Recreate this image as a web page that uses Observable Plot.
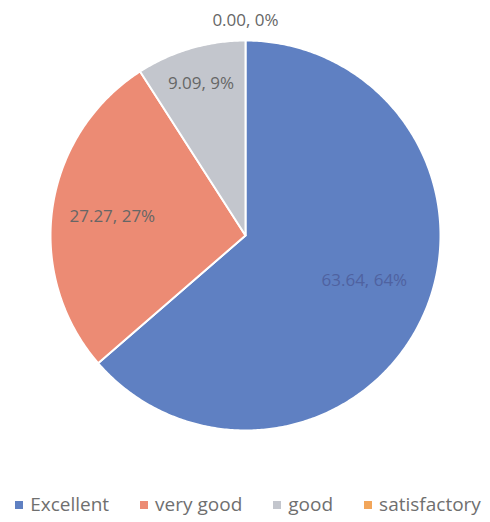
<!DOCTYPE html>
<html>
<head>
<meta charset="utf-8">
<script src="https://cdn.jsdelivr.net/npm/d3@7"></script>
<script src="https://cdn.jsdelivr.net/npm/@observablehq/plot@0.6"></script>
<style>
  html, body { margin: 0; padding: 0; background: #fff; }
  #chart { width: 490px; }
  .legend { display: flex; justify-content: center; gap: 31px; font-family: "Open Sans", "Lato", sans-serif; font-size: 19px; color: #6f6f6f; margin-top: 21px; white-space: nowrap; padding-left: 6px; }
  .legend span.sw { display: inline-block; width: 8px; height: 8px; margin-right: 7px; vertical-align: middle; position: relative; top: -1px; }
</style>
</head>
<body>
<div id="chart"></div>
<script>
const categories = ["Excellent", "very good", "good", "satisfactory"];
const values = [63.64, 27.27, 9.09, 0.00];
const percentLabels = ["64%", "27%", "9%", "0%"];
const colors = ["#5f80c2", "#ec8b74", "#c3c6cd", "#f2a65a"];

const data = categories.map((c, i) => ({category: c, value: values[i], pct: percentLabels[i]}));
const pie = d3.pie().sort(null).value(d => d.value)(data);

// polygon points for each slice (angle measured clockwise from top)
const pts = [];
pie.forEach(s => {
  if (s.endAngle - s.startAngle <= 0) return;
  const n = Math.max(2, Math.ceil((s.endAngle - s.startAngle) / 0.01));
  pts.push({category: s.data.category, x: 0, y: 0});
  for (let k = 0; k <= n; k++) {
    const a = s.startAngle + (s.endAngle - s.startAngle) * k / n;
    pts.push({category: s.data.category, x: Math.sin(a), y: Math.cos(a)});
  }
  pts.push({category: s.data.category, x: 0, y: 0});
});

const labels = pie.map(s => {
  const a = (s.startAngle + s.endAngle) / 2;
  const frac = (s.endAngle - s.startAngle) / (2 * Math.PI);
  const r = frac === 0 ? 1.1 : frac > 0.5 ? 0.67 : frac > 0.2 ? 0.69 : 0.81;
  return {x: Math.sin(a) * r, y: Math.cos(a) * r,
          text: s.data.value.toFixed(2) + ", " + s.data.pct, big: frac > 0.5};
});

const chart = Plot.plot({
  width: 490,
  height: 470,
  marginLeft: 50, marginRight: 50, marginTop: 40, marginBottom: 40,
  x: {domain: [-1, 1], axis: null},
  y: {domain: [-1, 1], axis: null},
  color: {domain: categories, range: colors},
  style: {fontFamily: "'Open Sans', Lato, sans-serif"},
  marks: [
    Plot.line(pts, {x: "x", y: "y", z: "category", fill: "category", stroke: "white", strokeWidth: 2, curve: "linear"}),
    Plot.text(labels.filter(d => !d.big), {x: "x", y: "y", text: "text", fontSize: 17, fill: "#666666"}),
    Plot.text(labels.filter(d => d.big), {x: "x", y: "y", text: "text", fontSize: 17, fill: "#4f62a0", dy: -9})
  ]
});
document.getElementById("chart").appendChild(chart);

const legend = document.createElement("div");
legend.className = "legend";
categories.forEach((c, i) => {
  const item = document.createElement("div");
  const sw = document.createElement("span");
  sw.className = "sw";
  sw.style.background = colors[i];
  item.appendChild(sw);
  item.appendChild(document.createTextNode(c));
  legend.appendChild(item);
});
document.getElementById("chart").appendChild(legend);
</script>
</body>
</html>
